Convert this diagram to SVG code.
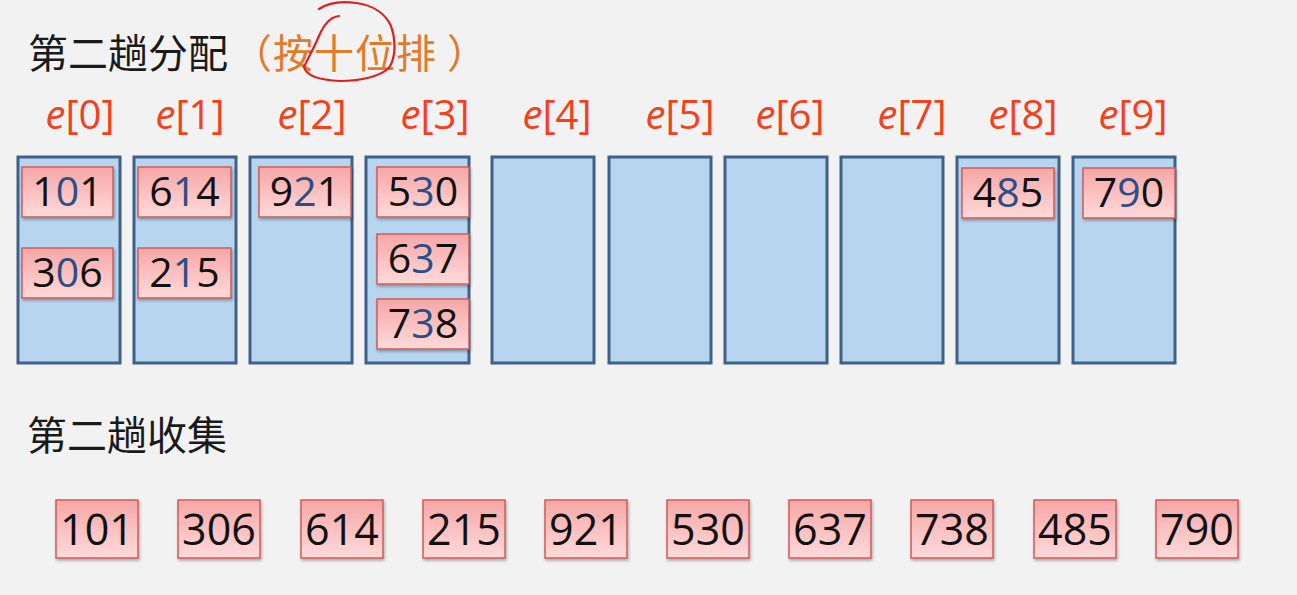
<svg xmlns="http://www.w3.org/2000/svg" width="1297" height="595" viewBox="0 0 1297 595">
<defs>
<linearGradient id="pink" x1="0" y1="0" x2="0" y2="1">
<stop offset="0" stop-color="#F7A6A6"/>
<stop offset="1" stop-color="#FFDADA"/>
</linearGradient>
<filter id="sh" x="-10%" y="-10%" width="130%" height="140%">
<feDropShadow dx="1" dy="2" stdDeviation="1.5" flood-color="#000" flood-opacity="0.3"/>
</filter>
<style>
.title{font-family:"Noto Sans CJK SC","Noto Sans",sans-serif;font-size:40px;fill:#1a1a1a}
.orange{fill:#E27A2C;letter-spacing:1px}
.lbl{font-family:"Open Sans","Noto Sans",sans-serif;font-size:40px;fill:#F4401C;text-anchor:middle}
.lbl .it{font-style:italic}
.bucket{fill:#B8D5EF;stroke:#3E6189;stroke-width:3}
.box{fill:url(#pink);stroke:#CF5C58;stroke-width:1.5;filter:url(#sh)}
.num{font-family:"Open Sans","Noto Sans",sans-serif;font-size:41px;fill:#111;text-anchor:middle}
.num2{font-family:"Open Sans","Noto Sans",sans-serif;font-size:43px;fill:#111;text-anchor:middle}
.mid{fill:#2A4E86}
.mark{fill:none;stroke:#E01E1E;stroke-width:2.2;stroke-linecap:round;stroke-linejoin:round}
</style>
</defs>
<rect x="0" y="0" width="1297" height="595" fill="#F2F2F2"/>

<g id="title1">
<text class="title" x="28" y="68">第二趟分配<tspan class="orange" dx="4">（按十位排 ）</tspan></text>
<path class="mark" d="M339,16 C330,17 324,24 319,36 C314,48 308,58 304,67 C306,75 318,80 340,81 C362,81 380,76 389,68 C396,57 396,40 391,26 C385,13 372,5 356,3 C342,1 328,3 319,9"/>
</g>

<g id="bucket0"><text class="lbl" x="80" y="129"><tspan class="it">e</tspan>[0]</text><rect class="bucket" x="18" y="157" width="102" height="206"/></g>
<g id="bucket1"><text class="lbl" x="190" y="129"><tspan class="it">e</tspan>[1]</text><rect class="bucket" x="134" y="157" width="102" height="206"/></g>
<g id="bucket2"><text class="lbl" x="312" y="129"><tspan class="it">e</tspan>[2]</text><rect class="bucket" x="250" y="157" width="102" height="206"/></g>
<g id="bucket3"><text class="lbl" x="435" y="129"><tspan class="it">e</tspan>[3]</text><rect class="bucket" x="366" y="157" width="103" height="206"/></g>
<g id="bucket4"><text class="lbl" x="557" y="129"><tspan class="it">e</tspan>[4]</text><rect class="bucket" x="492" y="157" width="102" height="206"/></g>
<g id="bucket5"><text class="lbl" x="680" y="129"><tspan class="it">e</tspan>[5]</text><rect class="bucket" x="609" y="157" width="102" height="206"/></g>
<g id="bucket6"><text class="lbl" x="790" y="129"><tspan class="it">e</tspan>[6]</text><rect class="bucket" x="725" y="157" width="102" height="206"/></g>
<g id="bucket7"><text class="lbl" x="912" y="129"><tspan class="it">e</tspan>[7]</text><rect class="bucket" x="841" y="157" width="102" height="206"/></g>
<g id="bucket8"><text class="lbl" x="1023" y="129"><tspan class="it">e</tspan>[8]</text><rect class="bucket" x="957" y="157" width="102" height="206"/></g>
<g id="bucket9"><text class="lbl" x="1133" y="129"><tspan class="it">e</tspan>[9]</text><rect class="bucket" x="1073" y="157" width="102" height="206"/></g>

<g id="n101"><rect class="box" x="22" y="167" width="91" height="50"/><text class="num" x="67.5" y="206">1<tspan class="mid">0</tspan>1</text></g>
<g id="n306"><rect class="box" x="22" y="248" width="91" height="50"/><text class="num" x="67.5" y="287">3<tspan class="mid">0</tspan>6</text></g>
<g id="n614"><rect class="box" x="138" y="167" width="93" height="50"/><text class="num" x="184.5" y="206">6<tspan class="mid">1</tspan>4</text></g>
<g id="n215"><rect class="box" x="138" y="248" width="93" height="50"/><text class="num" x="184.5" y="287">2<tspan class="mid">1</tspan>5</text></g>
<g id="n921"><rect class="box" x="259" y="167" width="92" height="50"/><text class="num" x="305" y="206">9<tspan class="mid">2</tspan>1</text></g>
<g id="n530"><rect class="box" x="377" y="167" width="92" height="50"/><text class="num" x="423" y="206">5<tspan class="mid">3</tspan>0</text></g>
<g id="n637"><rect class="box" x="377" y="234" width="92" height="50"/><text class="num" x="423" y="273">6<tspan class="mid">3</tspan>7</text></g>
<g id="n738"><rect class="box" x="377" y="299" width="92" height="50"/><text class="num" x="423" y="338">7<tspan class="mid">3</tspan>8</text></g>
<g id="n485"><rect class="box" x="962" y="168" width="92" height="50"/><text class="num" x="1008" y="207">4<tspan class="mid">8</tspan>5</text></g>
<g id="n790"><rect class="box" x="1083" y="168" width="92" height="50"/><text class="num" x="1129" y="207">7<tspan class="mid">9</tspan>0</text></g>

<g id="title2"><text class="title" x="27" y="450">第二趟收集</text></g>

<g id="c101"><rect class="box" x="56" y="500" width="82" height="58"/><text class="num2" x="97" y="545">101</text></g>
<g id="c306"><rect class="box" x="178" y="500" width="82" height="58"/><text class="num2" x="219" y="545">306</text></g>
<g id="c614"><rect class="box" x="301" y="500" width="82" height="58"/><text class="num2" x="342" y="545">614</text></g>
<g id="c215"><rect class="box" x="423" y="500" width="82" height="58"/><text class="num2" x="464" y="545">215</text></g>
<g id="c921"><rect class="box" x="545" y="500" width="82" height="58"/><text class="num2" x="586" y="545">921</text></g>
<g id="c530"><rect class="box" x="667" y="500" width="82" height="58"/><text class="num2" x="708" y="545">530</text></g>
<g id="c637"><rect class="box" x="789" y="500" width="82" height="58"/><text class="num2" x="830" y="545">637</text></g>
<g id="c738"><rect class="box" x="911" y="500" width="82" height="58"/><text class="num2" x="952" y="545">738</text></g>
<g id="c485"><rect class="box" x="1034" y="500" width="82" height="58"/><text class="num2" x="1075" y="545">485</text></g>
<g id="c790"><rect class="box" x="1156" y="500" width="82" height="58"/><text class="num2" x="1197" y="545">790</text></g>

<g id="connectors"/>
</svg>
